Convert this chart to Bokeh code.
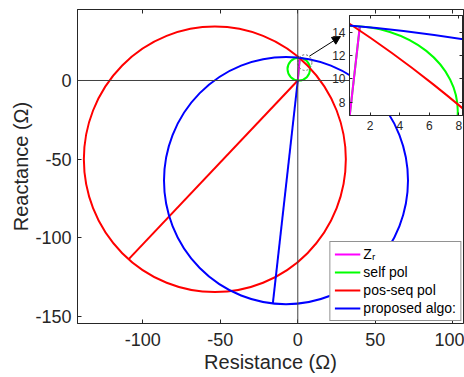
from bokeh.plotting import figure
from bokeh.models import (Range1d, FixedTicker, LinearAxis, Span, Legend,
                          LegendItem, Arrow, NormalHead)
from bokeh.embed import file_html
from bokeh.resources import INLINE

# ---------------- data (R, X in ohms) ----------------
zr_R = [0.0, 1.3]
zr_X = [0.0, 14.5]

self_pol_center = [0.65, 7.25]
self_pol_radius = 7.28
self_pol_line_R = [0.0, 1.3]
self_pol_line_X = [0.0, 14.5]

pos_seq_center = [-53.5, -50.2]
pos_seq_radius = 84.5
pos_seq_line_R = [0.0, -109.2]
pos_seq_line_X = [0.0, -113.9]

prop_center = [-7.6, -63.7]
prop_radius = 78.7
prop_line_R = [0.0, -16.1]
prop_line_X = [0.0, -142.1]

legend_labels = ["Z\u1d63", "self pol", "pos-seq pol", "proposed algo:"]
series_colors = ["#FF00FF", "#00FF00", "#FF0000", "#0000FF"]

x_ticks = [-100, -50, 0, 50, 100]
x_tick_labels = ["-100", "-50", "0", "50", "100"]
y_ticks = [-150, -100, -50, 0]
y_tick_labels = ["-150", "-100", "-50", "0"]

inset_x_ticks = [2, 4, 6, 8]
inset_x_tick_labels = ["2", "4", "6", "8"]
inset_y_ticks = [8, 10, 12, 14]
inset_y_tick_labels = ["8", "10", "12", "14"]

main_x_range = [-142.1, 106.9]
main_y_range = [-154.7, 45.2]
inset_x_range = [0.6, 8.25]
inset_y_range = [6.86, 15.43]

zoom_mark_center = [4.6, 11.4]
zoom_mark_size = [9.0, 10.0]
arrow_start = [7.5, 15.5]
arrow_end = [27.5, 28.0]

FONT = "Liberation Sans"
TXT = "#262626"
LW = 2


def draw(fig):
    rs = {}
    rs["self"] = fig.line(self_pol_line_R, self_pol_line_X,
                          line_color=series_colors[1], line_width=LW)
    rs["zr"] = fig.line(zr_R, zr_X, line_color=series_colors[0], line_width=LW)
    fig.ellipse(x=[self_pol_center[0]], y=[self_pol_center[1]],
                width=[2 * self_pol_radius], height=[2 * self_pol_radius],
                fill_color=None, line_color=series_colors[1], line_width=LW)
    fig.ellipse(x=[pos_seq_center[0]], y=[pos_seq_center[1]],
                width=[2 * pos_seq_radius], height=[2 * pos_seq_radius],
                fill_color=None, line_color=series_colors[2], line_width=LW)
    rs["pos"] = fig.line(pos_seq_line_R, pos_seq_line_X,
                         line_color=series_colors[2], line_width=LW)
    fig.ellipse(x=[prop_center[0]], y=[prop_center[1]],
                width=[2 * prop_radius], height=[2 * prop_radius],
                fill_color=None, line_color=series_colors[3], line_width=LW)
    rs["prop"] = fig.line(prop_line_R, prop_line_X,
                          line_color=series_colors[3], line_width=LW)
    return rs


def style_axis(ax, ticks, labels, size, standoff, tick_in):
    ax.ticker = FixedTicker(ticks=ticks)
    ax.major_label_overrides = {t: l for t, l in zip(ticks, labels)}
    ax.minor_tick_line_color = None
    ax.major_tick_in = tick_in
    ax.major_tick_out = 0
    ax.axis_line_color = TXT
    ax.major_tick_line_color = TXT
    ax.major_label_text_font = FONT
    ax.major_label_text_font_size = size
    ax.major_label_text_color = TXT
    ax.major_label_standoff = standoff


# ---------------- main figure ----------------
p = figure(width=464, height=377,
           x_range=Range1d(*main_x_range), y_range=Range1d(*main_y_range),
           output_backend="svg", toolbar_location=None,
           min_border_left=77, min_border_right=1,
           min_border_top=9, min_border_bottom=54)
p.grid.visible = False
p.outline_line_color = TXT
p.background_fill_color = "white"

p.add_layout(Span(location=0, dimension="width", line_color="#404040", line_width=1))
p.add_layout(Span(location=0, dimension="height", line_color="#404040", line_width=1))

rs = draw(p)

p.ellipse(x=[zoom_mark_center[0]], y=[zoom_mark_center[1]],
          width=[zoom_mark_size[0]], height=[zoom_mark_size[1]],
          fill_color=None, line_color="#666666", line_width=1, line_dash="2 2")
p.add_layout(Arrow(end=NormalHead(size=8, fill_color="black", line_color="black"),
                   x_start=arrow_start[0], y_start=arrow_start[1],
                   x_end=arrow_end[0], y_end=arrow_end[1],
                   line_color="black", line_width=1))

style_axis(p.xaxis[0], x_ticks, x_tick_labels, "18px", 9, 4)
style_axis(p.yaxis[0], y_ticks, y_tick_labels, "18px", 6, 4)
p.xaxis.axis_label = "Resistance (\u03a9)"
p.yaxis.axis_label = "Reactance (\u03a9)"
for ax in (p.xaxis[0], p.yaxis[0]):
    ax.axis_label_text_font = FONT
    ax.axis_label_text_font_size = "20px"
    ax.axis_label_text_font_style = "normal"
    ax.axis_label_text_color = TXT
p.xaxis[0].axis_label_standoff = 2
p.yaxis[0].axis_label_standoff = 0

top_ax = LinearAxis()
style_axis(top_ax, x_ticks, x_tick_labels, "0px", 0, 4)
top_ax.major_label_text_alpha = 0
p.add_layout(top_ax, "above")

legend = Legend(items=[
    LegendItem(label=legend_labels[0], renderers=[rs["zr"]]),
    LegendItem(label=legend_labels[1], renderers=[rs["self"]]),
    LegendItem(label=legend_labels[2], renderers=[rs["pos"]]),
    LegendItem(label=legend_labels[3], renderers=[rs["prop"]]),
], location="bottom_right")
legend.margin = 2
legend.padding = 4
legend.spacing = 2
legend.glyph_width = 26
legend.glyph_height = 16
legend.label_height = 16
legend.label_standoff = 3
legend.label_text_font = FONT
legend.label_text_font_size = "14px"
legend.label_text_color = "black"
legend.border_line_color = TXT
legend.border_line_width = 1
legend.background_fill_color = "white"
legend.background_fill_alpha = 1
p.add_layout(legend)

# ---------------- inset figure ----------------
q = figure(width=135, height=122,
           x_range=Range1d(*inset_x_range), y_range=Range1d(*inset_y_range),
           output_backend="svg", toolbar_location=None,
           min_border_left=18, min_border_right=2,
           min_border_top=2, min_border_bottom=20)
q.grid.visible = False
q.outline_line_color = TXT
q.background_fill_color = "white"
q.border_fill_alpha = 0
draw(q)
style_axis(q.xaxis[0], inset_x_ticks, inset_x_tick_labels, "12px", 5, 3)
style_axis(q.yaxis[0], inset_y_ticks, inset_y_tick_labels, "12px", 4, 3)
q_top = LinearAxis()
style_axis(q_top, inset_x_ticks, inset_x_tick_labels, "0px", 0, 3)
q_top.major_label_text_alpha = 0
q.add_layout(q_top, "above")
q_right = LinearAxis()
style_axis(q_right, inset_y_ticks, inset_y_tick_labels, "0px", 0, 3)
q_right.major_label_text_alpha = 0
q.add_layout(q_right, "right")

q.styles = {"position": "absolute", "left": "329px", "top": "13px"}

open("out.html", "w").write(file_html([p, q], INLINE))
